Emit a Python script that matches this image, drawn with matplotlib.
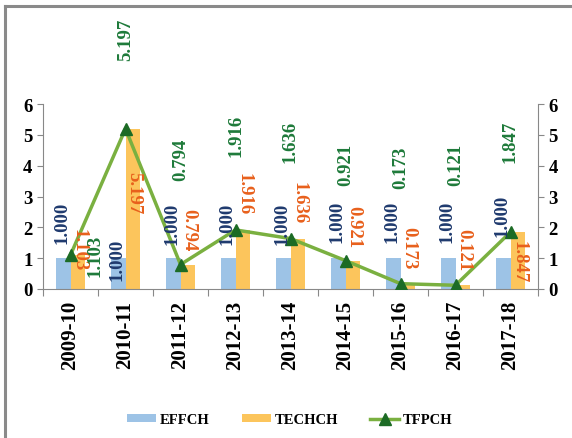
import numpy as np
import matplotlib.pyplot as plt
from matplotlib.lines import Line2D

years = ["2009-10", "2010-11", "2011-12", "2012-13", "2013-14",
         "2014-15", "2015-16", "2016-17", "2017-18"]
effch = [1.000, 1.000, 1.000, 1.000, 1.000, 1.000, 1.000, 1.000, 1.000]
techch = [1.103, 5.197, 0.794, 1.916, 1.636, 0.921, 0.173, 0.121, 1.847]
tfpch = [1.103, 5.197, 0.794, 1.916, 1.636, 0.921, 0.173, 0.121, 1.847]

# label centre heights (data units), as placed in the original
eff_lab_y = [2.17, 0.98, 2.15, 2.15, 2.15, 2.2, 2.2, 2.2, 2.4]
tech_lab_y = [1.3, 3.15, 1.95, 3.1, 2.83, 2.05, 1.37, 1.3, 0.9]
tfp_lab_y = [1.1, 8.1, 4.23, 5.0, 4.8, 4.07, 3.97, 4.07, 4.8]
tfp_lab_dx = [0.44, 0, 0, 0, 0, 0, 0, 0, 0]

blue = "#9DC3E6"
orange = "#FCC55C"
line_green = "#7AB040"
marker_green = "#1C6B25"
navy = "#1F3A6E"
red_orange = "#E8601C"
text_green = "#1E7A3A"

plt.rcParams['font.family'] = ['Liberation Serif', 'DejaVu Serif']
plt.rcParams['font.weight'] = 'bold'

fig = plt.figure(figsize=(5.72, 4.39), dpi=100)
ax = fig.add_axes([43 / 572, 1 - 290 / 439, 495 / 572, 185 / 439])
ax2 = ax.twinx()

x = np.arange(len(years))
w = 0.27
b1 = ax.bar(x - w / 2, effch, w, color=blue, label="EFFCH", zorder=2)
b2 = ax.bar(x + w / 2, techch, w, color=orange, label="TECHCH", zorder=2)
ln, = ax.plot(x, tfpch, color=line_green, lw=2.5, marker="^", markersize=9,
              markerfacecolor=marker_green, markeredgecolor=marker_green,
              label="TFPCH", zorder=3)

fs = 13.5
for i in range(len(years)):
    ax.text(x[i] - w / 2 - 0.02, eff_lab_y[i], f"{effch[i]:.3f}", rotation=90,
            ha="center", va="center", color=navy, fontsize=fs,
            fontweight="bold", zorder=4, clip_on=False)
    ax.text(x[i] + w / 2 + 0.02, tech_lab_y[i], f"{techch[i]:.3f}", rotation=-90,
            ha="center", va="center", color=red_orange, fontsize=fs,
            fontweight="bold", zorder=4, clip_on=False)
    ax.text(x[i] + tfp_lab_dx[i], tfp_lab_y[i], f"{tfpch[i]:.3f}", rotation=90,
            ha="center", va="center", color=text_green, fontsize=fs,
            fontweight="bold", zorder=4, clip_on=False)

ax.set_xlim(-0.5, len(years) - 0.5)
ax.set_ylim(0, 6)
ax2.set_ylim(0, 6)
ax.set_yticks(range(7))
ax2.set_yticks(range(7))
ax.set_xticks(np.arange(len(years) + 1) - 0.5, minor=False)
ax.set_xticklabels([])
ax.set_xticks(x, minor=True)
ax.set_xticklabels(years, minor=True, rotation=90, fontsize=15, fontweight="bold")
ax.tick_params(axis="x", which="minor", length=0, pad=8)
ax.tick_params(axis="x", which="major", length=5, color="#888888", direction="out")
ax.tick_params(axis="y", labelsize=13.5, color="#888888", length=4)
ax2.tick_params(axis="y", labelsize=13.5, color="#888888", length=4)

for a in (ax, ax2):
    a.spines["top"].set_visible(False)
    for s in ["left", "right", "bottom"]:
        a.spines[s].set_color("#888888")
ax.spines["right"].set_visible(False)
ax2.spines["left"].set_visible(False)
ax2.spines["bottom"].set_visible(False)

fig.legend([b1, b2, ln], ["EFFCH", "TECHCH", "TFPCH"], loc="center",
           bbox_to_anchor=(290 / 572, 1 - 421 / 439),
           ncol=3, frameon=False, fontsize=10.5, handlelength=2.0,
           handleheight=0.45, columnspacing=2.2, handletextpad=0.25)

# outer frame (left and top edges)
fig.add_artist(Line2D([5 / 572, 5 / 572], [0, 1 - 7 / 439], color="#8a8a8a", lw=2.2,
                      transform=fig.transFigure))
fig.add_artist(Line2D([5 / 572, 1], [1 - 7 / 439, 1 - 7 / 439], color="#8a8a8a", lw=2.2,
                      transform=fig.transFigure))

fig.savefig("out.png", dpi=100)
